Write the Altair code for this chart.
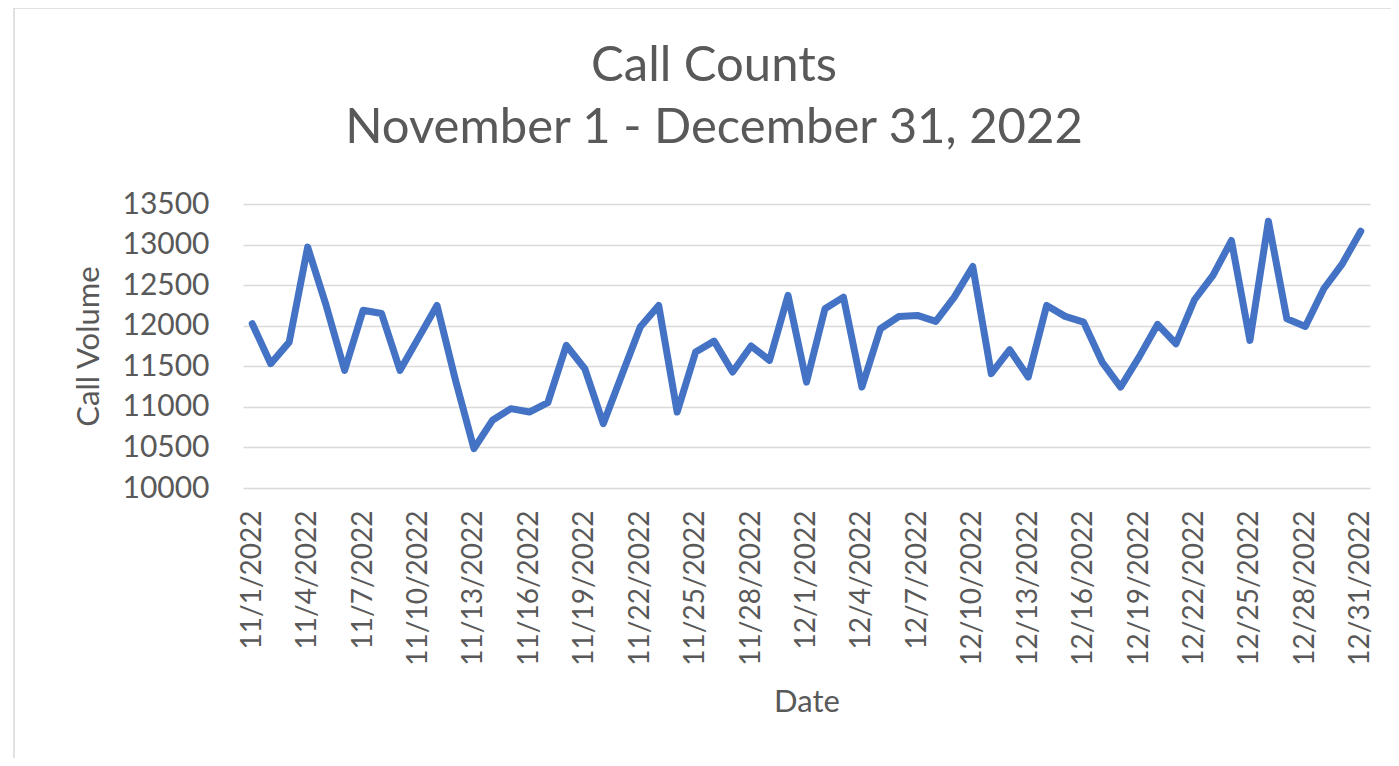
import altair as alt
import pandas as pd

# Categories: every day from 11/1/2022 to 12/31/2022
months = [(11, 30), (12, 31)]
dates = [f"{m}/{d}/2022" for m, n in months for d in range(1, n + 1)]

# Call volumes
calls = [12025, 11532, 11798, 12968, 12250, 11450, 12190, 12150, 11450, 11850,
         12250, 11330, 10485, 10834, 10978, 10936, 11052, 11757, 11470, 10793,
         11390, 11983, 12250, 10936, 11675, 11810, 11430, 11750, 11573, 12373,
         11305, 12209, 12352, 11244, 11963, 12114, 12127, 12053, 12352, 12730,
         11409, 11704, 11367, 12250, 12115, 12044, 11552, 11244, 11613, 12016,
         11778, 12320, 12619, 13050, 11819, 13288, 12086, 11991, 12456, 12763,
         13165]

y_ticks = [10000, 10500, 11000, 11500, 12000, 12500, 13000, 13500]
x_tick_labels = dates[::3]

title_lines = ["Call Counts", "November 1 - December 31, 2022"]

df = pd.DataFrame({"date": dates, "calls": calls})

TEXT = "#595959"
FONT = "Lato"

line = alt.Chart(df).mark_line(
    color="#4472C4", strokeWidth=7, strokeJoin="round", strokeCap="round"
).encode(
    x=alt.X(
        "date:N",
        sort=dates,
        scale=alt.Scale(type="point", padding=0.5),
        axis=alt.Axis(
            values=x_tick_labels,
            labelAngle=-90,
            labelFontSize=28,
            labelFont=FONT,
            labelColor=TEXT,
            labelPadding=22,
            ticks=False,
            domain=False,
            grid=False,
            title="Date",
            titleFont=FONT,
            titleFontSize=31,
            titleFontWeight="normal",
            titleColor=TEXT,
            titlePadding=22,
        ),
    ),
    y=alt.Y(
        "calls:Q",
        scale=alt.Scale(domain=[10000, 13500], nice=False, zero=False),
        axis=alt.Axis(
            values=y_ticks,
            format="d",
            labelFontSize=30,
            labelFont=FONT,
            labelColor=TEXT,
            labelPadding=34,
            ticks=False,
            domain=False,
            grid=True,
            gridColor="#D9D9D9",
            gridWidth=1.5,
            title="Call Volume",
            titleFont=FONT,
            titleFontSize=31,
            titleFontWeight="normal",
            titleColor=TEXT,
            titlePadding=16,
        ),
    ),
)

# Chart title drawn as text (two lines), centred on the whole chart area
title_df = pd.DataFrame({"t": title_lines})
title1 = alt.Chart(title_df.iloc[[0]]).mark_text(
    font=FONT, fontSize=49, color=TEXT, align="center", baseline="alphabetic"
).encode(x=alt.value(471), y=alt.value(-123), text="t:N")
title2 = alt.Chart(title_df.iloc[[1]]).mark_text(
    font=FONT, fontSize=49, color=TEXT, align="center", baseline="alphabetic"
).encode(x=alt.value(471), y=alt.value(-61), text="t:N")

# Light outer frame of the chart area
frame_df = pd.DataFrame({"k": [0]})
frame = alt.Chart(frame_df).mark_rect(
    fill=None, stroke="#D9D9D9", strokeWidth=1.5
).encode(
    x=alt.value(-229), x2=alt.value(1170), y=alt.value(-196), y2=alt.value(580)
)

chart = alt.layer(frame, line, title1, title2).properties(
    width=1127,
    height=284,
    autosize=alt.AutoSizeParams(type="none"),
    padding={"left": 235, "top": 196, "right": 21, "bottom": 270},
).configure_view(stroke=None)

chart.save("out.html", embed_options={"renderer": "svg", "actions": False})
